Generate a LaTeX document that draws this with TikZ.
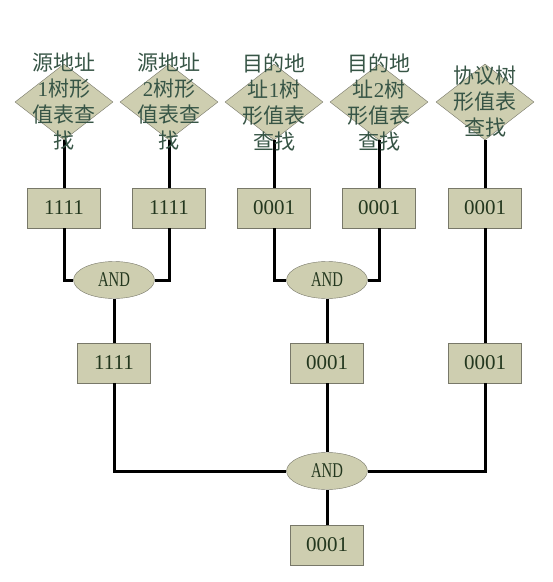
\documentclass[tikz,border=0pt]{standalone}
\usepackage{fontspec}
\setmainfont{Liberation Serif}
\newfontfamily\cjk{Noto Sans CJK SC}
\usetikzlibrary{shapes.geometric}
\definecolor{khaki}{RGB}{206,206,176}
\definecolor{edgegray}{RGB}{120,120,105}
\definecolor{darktext}{RGB}{35,55,30}
\definecolor{greentext}{RGB}{55,85,70}
\tikzset{
  lookup/.style={diamond, draw=edgegray, fill=khaki, minimum width=98pt, minimum height=76pt, inner sep=0pt},
  lookuptext/.style={align=center, text=greentext, font=\cjk\fontsize{21}{26}\selectfont},
  valbox/.style={rectangle, draw=edgegray, fill=khaki, minimum width=73pt, minimum height=40pt, text=darktext, font=\fontsize{21}{21}\selectfont},
  andgate/.style={ellipse, draw=edgegray, fill=khaki, minimum width=81pt, minimum height=37pt, inner sep=0pt, text=darktext, font=\fontsize{21}{21}\selectfont},
  wire/.style={line width=3pt, black}
}
\newcommand{\andlabel}{\scalebox{0.7}[1]{AND}}
\begin{document}
\begin{tikzpicture}[x=1pt,y=-1pt]
  \useasboundingbox[fill=white] (0,0) rectangle (553,582);
  % lookups
  \node[lookup] (d1) at (64,102) {};
  \node[lookup] (d2) at (169,102) {};
  \node[lookup] (d3) at (274,102) {};
  \node[lookup] (d4) at (379,102) {};
  \node[lookup] (d5) at (485,102) {};
  % first results
  \node[valbox] (b1) at (64,208) {1111};
  \node[valbox] (b2) at (169,208) {1111};
  \node[valbox] (b3) at (274,208) {0001};
  \node[valbox] (b4) at (379,208) {0001};
  \node[valbox] (b5) at (485,208) {0001};
  % first AND
  \node[andgate] (a1) at (114,280) {\andlabel};
  \node[andgate] (a2) at (327,280) {\andlabel};
  % second results
  \node[valbox] (c1) at (114,363) {1111};
  \node[valbox] (c2) at (327,363) {0001};
  \node[valbox] (c3) at (485,363) {0001};
  % final AND
  \node[andgate] (a3) at (327,471) {\andlabel};
  \node[valbox] (r) at (327,545) {0001};
  % wires
  \draw[wire] (d1.south) -- (b1.north);
  \draw[wire] (d2.south) -- (b2.north);
  \draw[wire] (d3.south) -- (b3.north);
  \draw[wire] (d4.south) -- (b4.north);
  \draw[wire] (d5.south) -- (b5.north);
  \draw[wire] (b1.south) |- (a1.west);
  \draw[wire] (b2.south) |- (a1.east);
  \draw[wire] (b3.south) |- (a2.west);
  \draw[wire] (b4.south) |- (a2.east);
  \draw[wire] (a1.south) -- (c1.north);
  \draw[wire] (a2.south) -- (c2.north);
  \draw[wire] (b5.south) -- (c3.north);
  \draw[wire] (c1.south) |- (a3.west);
  \draw[wire] (c3.south) |- (a3.east);
  \draw[wire] (c2.south) -- (a3.north);
  \draw[wire] (a3.south) -- (r.north);
  % lookup texts
  \node[lookuptext] (t1) at (d1) {源地址\\\textrm{1}树形\\值表查\\找};
  \node[lookuptext] (t2) at (d2) {源地址\\\textrm{2}树形\\值表查\\找};
  \node[lookuptext] (t3) at (d3) {目的地\\址\textrm{1}树\\形值表\\查找};
  \node[lookuptext] (t4) at (d4) {目的地\\址\textrm{2}树\\形值表\\查找};
  \node[lookuptext] (t5) at (d5) {协议树\\形值表\\查找};
\end{tikzpicture}
\end{document}
